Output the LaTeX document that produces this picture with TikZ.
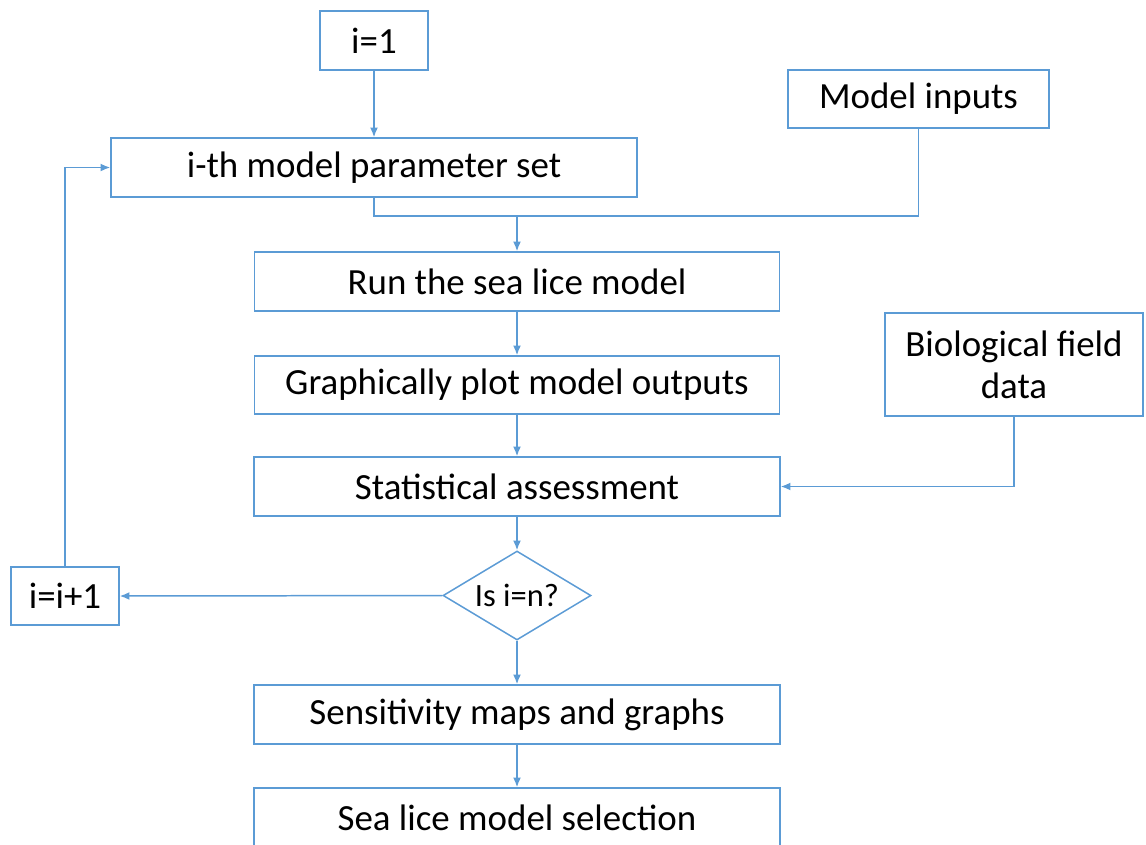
\documentclass[tikz,border=0pt]{standalone}
\usepackage{fontspec}
\setmainfont{Carlito}
\usepackage{xcolor}
\usepackage{tikz}
\usetikzlibrary{arrows.meta,shapes.geometric}
\definecolor{edge}{HTML}{5B9BD5}
\definecolor{ink}{HTML}{000000}
\tikzset{
  box/.style={draw=edge, line width=0.85pt, rectangle, inner sep=0pt, text=ink,
    font=\fontsize{21}{24}\selectfont, align=center},
  decision/.style={draw=edge, line width=0.85pt, diamond, aspect=1.66, inner sep=0pt,
    minimum width=2.96cm, minimum height=1.78cm, text=ink, font=\fontsize{18.5}{22}\selectfont},
  conn/.style={draw=edge, line width=0.85pt},
  arr/.style={conn, -{Latex[length=5.5pt,width=4.5pt]}}
}
\begin{document}
\begin{tikzpicture}
  \useasboundingbox (0,0) rectangle (22.92,-16.88);
  \clip (0,0) rectangle (22.92,-16.88);

  \node[box, minimum width=2.16cm, minimum height=1.18cm] (start) at (7.48,-0.81) {i=1};
  \node[box, minimum width=5.22cm, minimum height=1.16cm] (inputs) at (18.37,-1.98) {Model inputs};
  \node[box, minimum width=10.52cm, minimum height=1.18cm] (param) at (7.48,-3.35) {i-th model parameter set};
  \node[box, minimum width=10.5cm, minimum height=1.18cm] (run) at (10.34,-5.63) {Run the sea lice model};
  \node[box, minimum width=10.5cm, minimum height=1.16cm] (plot) at (10.34,-7.7) {Graphically plot model outputs};
  \node[box, minimum width=5.16cm, minimum height=2.06cm] (bio) at (20.28,-7.29) {Biological field\\data};
  \node[box, minimum width=10.52cm, minimum height=1.18cm] (stat) at (10.34,-9.73) {Statistical assessment};
  \node[decision] (check) at (10.34,-11.91) {Is i=n?};
  \node[box, minimum width=2.16cm, minimum height=1.16cm] (incr) at (1.3,-11.92) {i=i+1};
  \node[box, minimum width=10.52cm, minimum height=1.18cm] (sens) at (10.34,-14.29) {Sensitivity maps and graphs};
  \node[box, minimum width=10.52cm, minimum height=1.18cm] (select) at (10.34,-16.35) {Sea lice model selection};

  \coordinate (merge) at (10.34,-4.32);

  \draw[arr] (start) -- (param);
  \draw[conn] (param.south) |- (merge);
  \draw[conn] (inputs.south) |- (merge);
  \draw[arr] (merge) -- (run.north);
  \draw[arr] (run) -- (plot);
  \draw[arr] (plot) -- (stat);
  \draw[arr] (bio.south) |- (stat.east);
  \draw[arr] (stat) -- (check);
  \draw[arr] (check.west) -- (incr.east);
  \draw[arr] (incr.north) |- (param.west);
  \draw[arr] (check) -- (sens);
  \draw[arr] (sens) -- (select);
\end{tikzpicture}
\end{document}
